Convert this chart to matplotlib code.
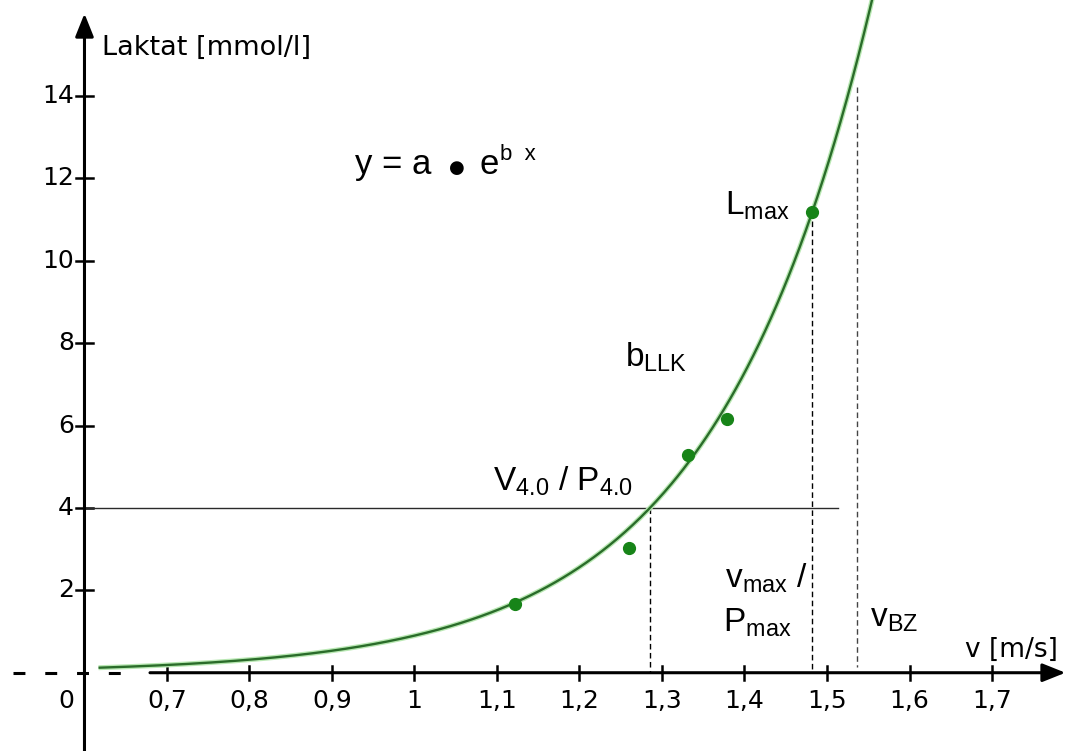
import numpy as np
import matplotlib.pyplot as plt

plt.rcParams["font.family"] = ["DejaVu Sans"]
plt.rcParams["mathtext.fontset"] = "custom"
plt.rcParams["mathtext.rm"] = "Liberation Sans"
plt.rcParams["mathtext.it"] = "Liberation Sans"

# step test: speed [m/s] and lactate [mmol/l]
V_PTS = [1.122, 1.260, 1.332, 1.379, 1.482]
L_PTS = [1.66, 3.02, 5.28, 6.17, 11.19]

# exponential fit y = a * e^(b x)
A_FIT = 0.004846
B_FIT = 5.225

X_TICKS = [0.7, 0.8, 0.9, 1.0, 1.1, 1.2, 1.3, 1.4, 1.5, 1.6, 1.7]
X_LABELS = ["0,7", "0,8", "0,9", "1", "1,1", "1,2", "1,3", "1,4", "1,5", "1,6", "1,7"]
Y_TICKS = [2, 4, 6, 8, 10, 12, 14]

L_THRESH = 4.0      # 4 mmol/l threshold
V_LMAX = V_PTS[-1]
L_MAX = L_PTS[-1]
V_BZ = 1.536
L_BZ_TOP = 14.22

GREEN_LINE = "#2a6c2a"
GREEN_DOT = "#178418"
ARIAL = "Liberation Sans"

fig = plt.figure(figsize=(10.67, 7.51), dpi=100)
ax = fig.add_axes([0, 0, 1, 1])
ax.set_xlim(0.4976, 1.7909)
ax.set_ylim(-1.90, 16.33)
ax.axis("off")

# axes with arrow heads
arrow = dict(arrowstyle="-|>,head_length=0.7,head_width=0.28", lw=2.2,
             color="black", shrinkA=0, shrinkB=0, mutation_scale=20)
ax.annotate("", xy=(0.6, 16.0), xytext=(0.6, -1.95), arrowprops=arrow)
ax.annotate("", xy=(1.789, 0), xytext=(0.6794, 0), arrowprops=arrow)
ax.plot([0.5134, 0.6467], [0, 0], color="black", lw=2.2, dashes=[3.9, 6.5],
        solid_capstyle="butt", dash_capstyle="butt")

for xt in X_TICKS:
    ax.plot([xt, xt], [-0.17, 0.17], color="black", lw=1.8)
for yt in Y_TICKS:
    ax.plot([0.5903, 0.6104], [yt, yt], color="black", lw=1.8)

for xt, lab in zip(X_TICKS, X_LABELS):
    ax.text(xt, -0.857, lab, ha="center", va="baseline", fontsize=18)
ax.text(0.5784, -0.857, "0", ha="center", va="baseline", fontsize=18)
for yt in Y_TICKS:
    ax.text(0.587, yt, str(yt), ha="right", va="center", fontsize=18)

ax.text(0.6209, 14.99, "Laktat [mmol/l]", ha="left", va="baseline", fontsize=19.5)
ax.text(1.6673, 0.388, "v [m/s]", ha="left", va="baseline", fontsize=19)

# threshold and marker lines
v40 = np.log(L_THRESH / A_FIT) / B_FIT
ax.plot([0.6, 1.513], [L_THRESH, L_THRESH], color="#2a2a2a", lw=1.0)
ax.plot([v40, v40], [L_THRESH, 0], color="black", lw=1.0, dashes=[4, 2.5])
ax.plot([V_LMAX, V_LMAX], [L_MAX, 0], color="black", lw=1.0, dashes=[4, 2.5])
ax.plot([V_BZ, V_BZ], [L_BZ_TOP, 0.15], color="#444444", lw=1.0, dashes=[4, 2.5])

# fitted curve
v_end = np.log(16.5 / A_FIT) / B_FIT
vv = np.linspace(0.617, v_end, 400)
ll = A_FIT * np.exp(B_FIT * vv)
ax.plot(vv, ll, color="#b9e8b3", lw=3.6, solid_capstyle="butt")
ax.plot(vv, ll, color=GREEN_LINE, lw=1.7, solid_capstyle="butt")
ax.plot(V_PTS, L_PTS, "o", color=GREEN_DOT, markersize=8.5, zorder=5)

# labels
ax.text(0.928, 12.1, "y = a", ha="left", va="baseline", fontsize=25, family=ARIAL)
ax.text(1.0512, 12.25, "\u25cf", ha="center", va="center", fontsize=13)
ax.text(1.0782, 12.1, "e", ha="left", va="baseline", fontsize=25, family=ARIAL)
ax.text(1.1036, 12.45, "b  x", ha="left", va="baseline", fontsize=16, family=ARIAL)

ax.text(1.3764, 11.11, r"L$_{\mathrm{max}}$", ha="left", va="baseline",
        fontsize=24, family=ARIAL)
ax.text(1.2552, 7.43, r"b$_{\mathrm{LLK}}$", ha="left", va="baseline",
        fontsize=24, family=ARIAL)
ax.text(1.0952, 4.43, r"V$_{\mathrm{4.0}}$ / P$_{\mathrm{4.0}}$", ha="left",
        va="baseline", fontsize=24, family=ARIAL)
ax.text(1.3764, 2.06, r"v$_{\mathrm{max}}$ /", ha="left", va="baseline",
        fontsize=24, family=ARIAL)
ax.text(1.374, 0.99, r"P$_{\mathrm{max}}$", ha="left", va="baseline",
        fontsize=24, family=ARIAL)
ax.text(1.552, 1.11, r"v$_{\mathrm{BZ}}$", ha="left", va="baseline",
        fontsize=24, family=ARIAL)

fig.savefig("out.png", dpi=100, facecolor="white")
